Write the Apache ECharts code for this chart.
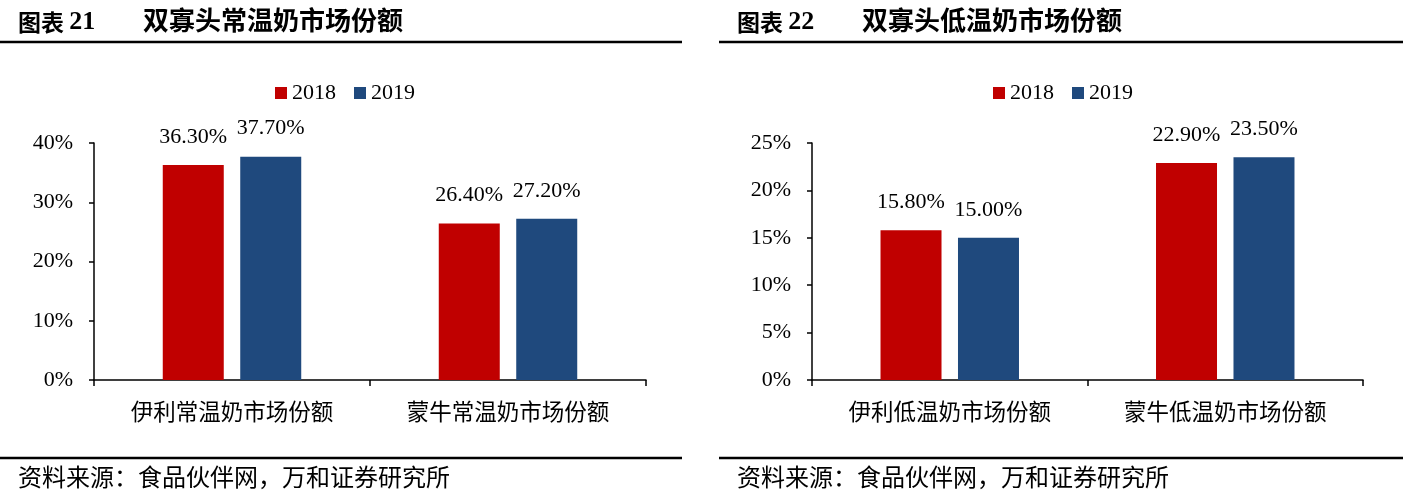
<!DOCTYPE html>
<html>
<head>
<meta charset="utf-8">
<script src="https://cdn.jsdelivr.net/npm/echarts@6/dist/echarts.min.js"></script>
<style>
html,body{margin:0;padding:0;background:#fff;}
#chart{width:1403px;height:499px;}
</style>
</head>
<body>
<div id="chart"></div>
<script>
// ---- data ----
const seriesNames = ['2018', '2019'];
const categoriesLeft = ['伊利常温奶市场份额', '蒙牛常温奶市场份额'];
const left2018 = [36.3, 26.4];
const left2019 = [37.7, 27.2];
const categoriesRight = ['伊利低温奶市场份额', '蒙牛低温奶市场份额'];
const right2018 = [15.8, 22.9];
const right2019 = [15.0, 23.5];
const leftAxisMax = 40, leftAxisInterval = 10;
const rightAxisMax = 25, rightAxisInterval = 5;
const titleLeftNo = '21', titleLeft = '双寡头常温奶市场份额';
const titleRightNo = '22', titleRight = '双寡头低温奶市场份额';
const sourceText = '资料来源：食品伙伴网，万和证券研究所';

// ---- styles ----
const RED = '#C00000', BLUE = '#1F497D';
const SERIF = '"Liberation Serif","Times New Roman",serif';
const CJK = '"Noto Sans CJK SC",sans-serif';

const chart = echarts.init(document.getElementById('chart'), null, {renderer: 'canvas'});

function yAxis(gi, max, interval) {
  return {
    type: 'value', gridIndex: gi, min: 0, max: max, interval: interval,
    axisLine: {show: true, lineStyle: {color: '#000', width: 1.5}},
    axisTick: {show: true, length: 5, lineStyle: {color: '#000', width: 1.5}},
    splitLine: {show: false},
    axisLabel: {formatter: '{value}%', color: '#000', fontFamily: SERIF, fontSize: 22, margin: 21}
  };
}
function xAxis(gi, cats) {
  return {
    type: 'category', gridIndex: gi, data: cats,
    axisLine: {show: true, lineStyle: {color: '#000', width: 1.5}},
    axisTick: {show: true, length: 6, alignWithLabel: false, lineStyle: {color: '#000', width: 1.5}},
    axisLabel: {color: '#000', fontFamily: CJK, fontSize: 22.5, margin: 20}
  };
}
function bar(name, data, gi, color) {
  return {
    name: name, type: 'bar', xAxisIndex: gi, yAxisIndex: gi, data: data,
    barWidth: 61, barGap: '27%',
    itemStyle: {color: color},
    label: {show: true, position: 'top', distance: 17, color: '#000', fontFamily: SERIF, fontSize: 22,
      formatter: p => p.value.toFixed(2) + '%'},
    emphasis: {disabled: true}
  };
}
function legend(left) {
  return {
    data: seriesNames, left: left, top: 77, icon: 'rect', itemWidth: 12, itemHeight: 12, itemGap: 18,
    textStyle: {color: '#000', fontFamily: SERIF, fontSize: 22}, selectedMode: false
  };
}
function titleText(x, no, txt) {
  return [
    {type: 'text', left: x, top: 9, style: {
      text: '图表 {n|' + no + '}', font: 'bold 23px ' + CJK, fill: '#000',
      rich: {n: {fontFamily: SERIF, fontWeight: 'bold', fontSize: 26, fill: '#000'}}}},
    {type: 'text', left: x + 125, top: 7, style: {text: txt, font: 'bold 26px ' + CJK, fill: '#000'}}
  ];
}
function rule(x1, x2, y) {
  return {type: 'line', shape: {x1: x1, y1: y, x2: x2, y2: y}, style: {stroke: '#000', lineWidth: 2.5}};
}

chart.setOption({
  backgroundColor: '#fff',
  animation: false,
  grid: [
    {left: 94, top: 143, width: 552, height: 237},
    {left: 812, top: 143, width: 551, height: 237}
  ],
  xAxis: [xAxis(0, categoriesLeft), xAxis(1, categoriesRight)],
  yAxis: [yAxis(0, leftAxisMax, leftAxisInterval), yAxis(1, rightAxisMax, rightAxisInterval)],
  legend: [legend(270), legend(988)],
  series: [
    bar(seriesNames[0], left2018, 0, RED),
    bar(seriesNames[1], left2019, 0, BLUE),
    bar(seriesNames[0], right2018, 1, RED),
    bar(seriesNames[1], right2019, 1, BLUE)
  ],
  graphic: [].concat(
    titleText(18, titleLeftNo, titleLeft),
    titleText(737, titleRightNo, titleRight),
    [rule(0, 682, 42), rule(719, 1403, 42), rule(0, 682, 458), rule(719, 1403, 458),
     {type: 'text', left: 18, top: 465, style: {text: sourceText, font: '24px ' + CJK, fill: '#000'}},
     {type: 'text', left: 737, top: 465, style: {text: sourceText, font: '24px ' + CJK, fill: '#000'}}]
  )
});
</script>
</body>
</html>
